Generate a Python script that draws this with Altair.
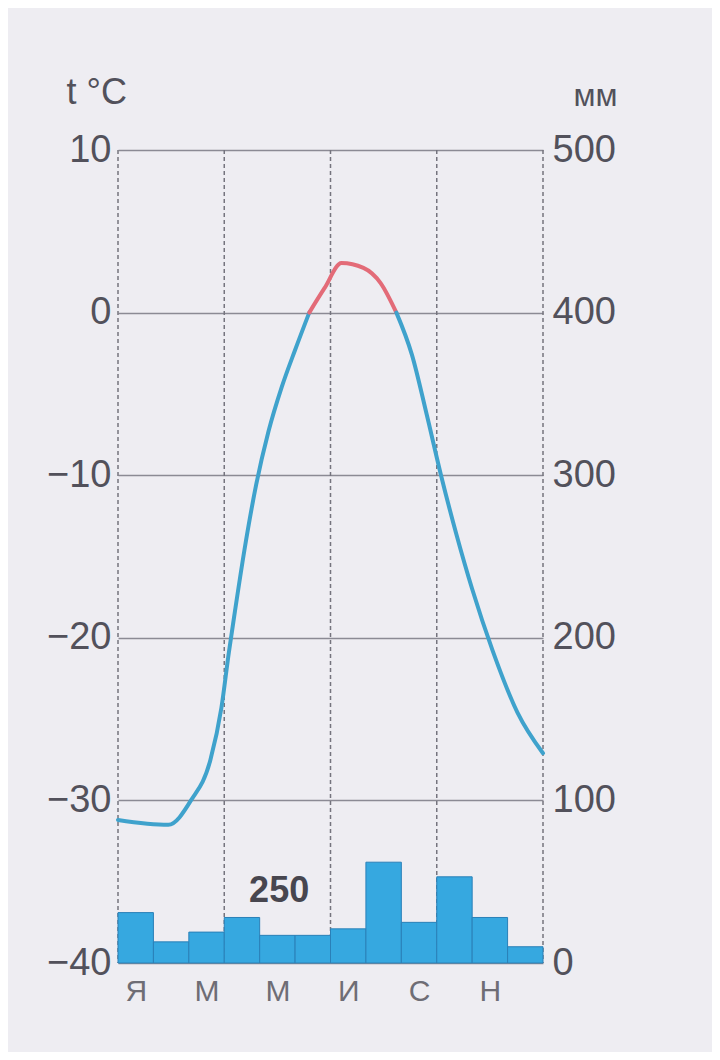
import json
import altair as alt
import pandas as pd

# ---- data ----
month_labels = ["Я", "М", "М", "И", "С", "Н"]
month_label_pos = [0.5, 2.5, 4.5, 6.5, 8.5, 10.5]
grid_months = [0, 3, 6, 9, 12]

precip_mm = [31, 13, 19, 28, 17, 17, 21, 62, 25, 53, 28, 10]
annual_label = "250"
annual_label_x = [4.55]
annual_label_y = [44]

# temperature curve (x in months from start of January, t in °C)
rise_x = [0.0, 1.42, 2.06, 2.61, 2.92, 3.13, 3.30, 3.57, 3.90, 4.25, 4.62, 5.00, 5.40]
rise_t = [-31.2, -31.5, -30.0, -27.5, -24.3, -20.9, -18.4, -14.6, -10.6, -7.3, -4.6, -2.3, 0.0]
peak_x = [5.40, 5.83, 6.31, 6.93, 7.42, 7.86]
peak_t = [0.0, 1.5, 3.05, 2.75, 1.8, 0.0]
fall_x = [7.86, 8.30, 8.72, 9.12, 9.55, 10.0, 10.58, 11.28, 12.0]
fall_t = [0.0, -2.6, -6.3, -10.0, -13.6, -17.0, -20.8, -24.6, -27.1]

temp_ticks = [-40, -30, -20, -10, 0, 10]
mm_ticks = [0, 100, 200, 300, 400, 500]

# ---- tables ----
bars_df = pd.DataFrame({
    "m0": list(range(12)),
    "m1": [i + 1 for i in range(12)],
    "mm": precip_mm,
})
grid_df = pd.DataFrame({"m": grid_months})
label_df = pd.DataFrame({"m": annual_label_x, "mm": annual_label_y, "txt": [annual_label]})

rows = []
for seg, xs, ts, col in (("a", rise_x, rise_t, "#3fa2cc"),
                         ("b", peak_x, peak_t, "#e36b78"),
                         ("c", fall_x, fall_t, "#3fa2cc")):
    for i, (x, t) in enumerate(zip(xs, ts)):
        rows.append({"m": x, "t": t, "seg": seg, "col": col, "i": i})
temp_df = pd.DataFrame(rows)

FONT = "Liberation Sans"
TXT = "#52515b"

label_expr = json.dumps(month_labels, ensure_ascii=False) + "[floor(datum.value / 2)]"
x_axis = alt.Axis(values=month_label_pos, labelExpr=label_expr, grid=False, ticks=False,
                  domain=False, title=None, labelFontSize=30, labelColor="#6e6d75",
                  labelFont=FONT, labelPadding=13, labelFlush=False)
x_scale = alt.Scale(domain=[0, 12], nice=False, zero=False)

mm_scale = alt.Scale(domain=[0, 500], nice=False)
t_scale = alt.Scale(domain=[-40, 10], nice=False)

rules = alt.Chart(grid_df).mark_rule(color="#75747e", strokeWidth=1.5, strokeDash=[4, 3]).encode(
    x=alt.X("m:Q", scale=x_scale, axis=x_axis)
)

bars = alt.Chart(bars_df).mark_rect(color="#36a8e0", stroke="#2a80b8", strokeWidth=1).encode(
    x=alt.X("m0:Q", scale=x_scale, axis=x_axis),
    x2="m1:Q",
    y=alt.Y("mm:Q", scale=mm_scale,
            axis=alt.Axis(orient="right", values=mm_ticks, grid=False, ticks=False, domain=False,
                          labelFontSize=38, labelColor=TXT, labelFont=FONT, labelPadding=9,
                          title="мм", titleAngle=0, titleFontSize=32, titleFontWeight="normal",
                          titleColor=TXT, titleFont=FONT, titleX=52, titleY=-45,
                          titleAlign="center", titleBaseline="alphabetic")),
    y2=alt.datum(0),
)

annual = alt.Chart(label_df).mark_text(fontSize=36, fontWeight="bold", color="#47464f",
                                       font=FONT, baseline="middle", align="center").encode(
    x=alt.X("m:Q", scale=x_scale, axis=x_axis),
    y=alt.Y("mm:Q", scale=mm_scale),
    text="txt:N",
)

mm_layer = alt.layer(rules, bars, annual)

temp_line = alt.Chart(temp_df).mark_line(strokeWidth=4, interpolate="monotone",
                                         strokeCap="round", strokeJoin="round").encode(
    x=alt.X("m:Q", scale=x_scale, axis=x_axis),
    y=alt.Y("t:Q", scale=t_scale,
            axis=alt.Axis(orient="left", values=temp_ticks, grid=True, gridColor="#8b8a94",
                          gridWidth=1.5, ticks=False, domain=False, labelFontSize=38,
                          labelColor=TXT, labelFont=FONT, labelPadding=7,
                          title="t °C", titleAngle=0, titleFontSize=36, titleFontWeight="normal",
                          titleColor=TXT, titleFont=FONT, titleX=-52, titleY=-47,
                          titleAlign="left", titleBaseline="alphabetic")),
    color=alt.Color("col:N", scale=None),
    detail="seg:N",
    order="i:Q",
)

chart = alt.layer(mm_layer, temp_line).resolve_scale(y="independent").properties(
    width=425,
    height=813,
    autosize=alt.AutoSizeParams(type="none"),
    padding={"left": 110, "top": 142, "right": 169, "bottom": 89},
    background="#eeedf2",
).configure_view(stroke=None)

chart.save("out.html", embed_options={"renderer": "svg", "actions": False})
